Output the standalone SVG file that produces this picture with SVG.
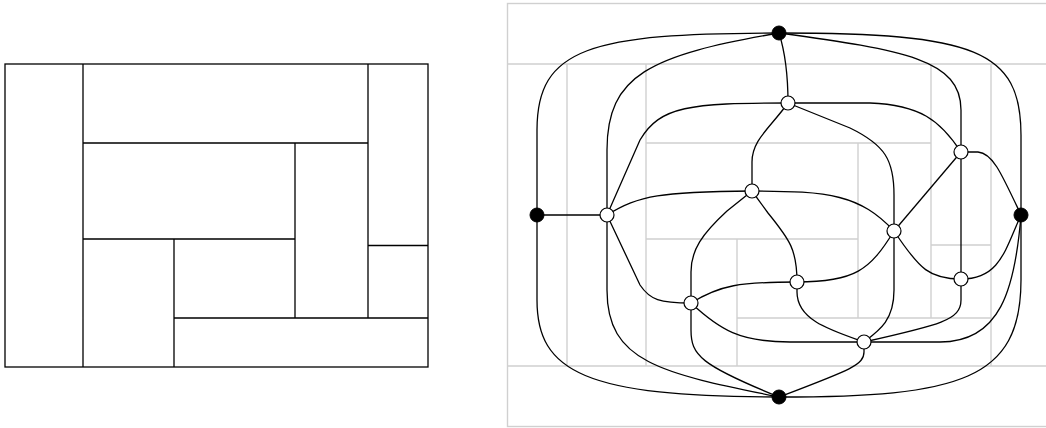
<svg xmlns="http://www.w3.org/2000/svg" width="1046" height="428" viewBox="0 0 1046 428">
<style>
.lay{fill:none;stroke:#000;stroke-width:1.3}
.grid{fill:none;stroke:#d0d0d0;stroke-width:1.4}
.e{fill:none;stroke:#000;stroke-width:1.3}
.wn{fill:#fff;stroke:#000;stroke-width:1.2}
.bn{fill:#000;stroke:#000;stroke-width:1}
</style>
<rect width="1046" height="428" fill="#fff"/>
<g id="layout">
<rect class="lay" x="5" y="64" width="423" height="303"/>
<path class="lay" d="M83,64V367M83,143H368M368,64V318M368,245.5H428M295,143V318M83,239H295M174,239V367M174,318H428"/>
</g>
<g id="grid">
<rect class="grid" x="507.5" y="3.5" width="560" height="423"/>
<path class="grid" d="M507,64H1046M507,366H1046M567,64V366M646,64V366M931,64V318M991,64V366M646,143H931M858,143V318M646,239H858M737,239V366M737,318H991M931,245H991"/>
</g>
<g id="connectors">
<path class="e" d="M779,33C590,33 537,48 537,130L537,215"/>
<path class="e" d="M779,33C650,55 607,75 607,150L607,215"/>
<path class="e" d="M779,33C786,55 788,75 788,103"/>
<path class="e" d="M779,33C905,50 961,60 961,110L961,152"/>
<path class="e" d="M779,33C975,33 1021,50 1021,135L1021,215"/>
<path class="e" d="M537,215H607"/>
<path class="e" d="M537,215L537,300C537,372 585,397 779,397"/>
<path class="e" d="M607,215L607,290C607,362 660,373 779,397"/>
<path class="e" d="M607,215L640,285C650,300 660,303 691,303"/>
<path class="e" d="M607,215C640,195 660,192 752,191"/>
<path class="e" d="M607,215L640,140C660,106 690,103 788,103"/>
<path class="e" d="M788,103C770,128 752,140 752,162L752,191"/>
<path class="e" d="M788,103L870,103C920,105 940,120 961,152"/>
<path class="e" d="M788,103L850,128C885,145 894,160 894,195L894,231"/>
<path class="e" d="M752,191L727,211C702,234 691,250 691,272L691,303"/>
<path class="e" d="M752,191L768,213C790,240 797,250 797,282"/>
<path class="e" d="M752,191C830,191 860,195 894,231"/>
<path class="e" d="M961,152L894,231"/>
<path class="e" d="M961,152V279"/>
<path class="e" d="M961,152L978,152C992,153 1000,170 1021,215"/>
<path class="e" d="M894,231C870,270 855,282 797,282"/>
<path class="e" d="M894,231L894,290C894,320 880,330 864,342"/>
<path class="e" d="M894,231C920,270 930,279 961,279"/>
<path class="e" d="M961,279C1000,279 1005,250 1021,215"/>
<path class="e" d="M961,279L961,300C961,320 940,325 864,342"/>
<path class="e" d="M864,342L940,342C1000,342 1015,290 1021,215"/>
<path class="e" d="M864,342L864,352C864,365 850,370 779,397"/>
<path class="e" d="M864,342C830,330 797,320 797,292L797,282"/>
<path class="e" d="M691,303C720,330 740,342 790,342L864,342"/>
<path class="e" d="M691,303C720,285 740,282 797,282"/>
<path class="e" d="M691,303L691,330C691,355 700,365 779,397"/>
<path class="e" d="M779,397C960,397 1021,380 1021,280L1021,215"/>
</g>
<g id="nT"><circle class="bn" cx="779" cy="33" r="7"/></g>
<g id="nL"><circle class="bn" cx="537" cy="215" r="7"/></g>
<g id="nR"><circle class="bn" cx="1021" cy="215" r="7"/></g>
<g id="nBt"><circle class="bn" cx="779" cy="397" r="7"/></g>
<g id="nA"><circle class="wn" cx="607" cy="215" r="7"/></g>
<g id="nB"><circle class="wn" cx="788" cy="103" r="7"/></g>
<g id="nC"><circle class="wn" cx="752" cy="191" r="7"/></g>
<g id="nD"><circle class="wn" cx="961" cy="152" r="7"/></g>
<g id="nE"><circle class="wn" cx="894" cy="231" r="7"/></g>
<g id="nF"><circle class="wn" cx="797" cy="282" r="7"/></g>
<g id="nG"><circle class="wn" cx="691" cy="303" r="7"/></g>
<g id="nH"><circle class="wn" cx="961" cy="279" r="7"/></g>
<g id="nI"><circle class="wn" cx="864" cy="342" r="7"/></g>
</svg>
